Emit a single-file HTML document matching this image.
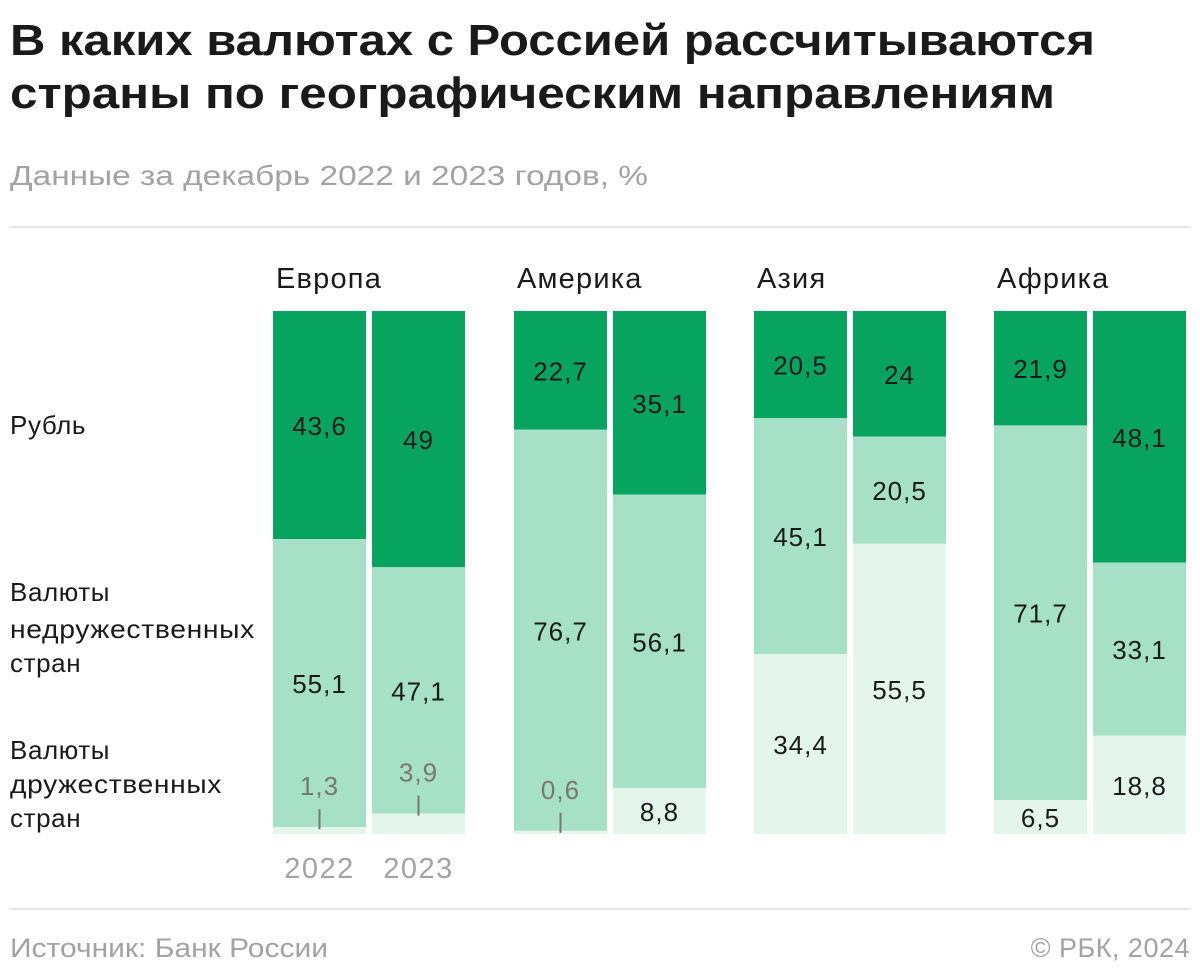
<!DOCTYPE html>
<html><head><meta charset="utf-8"><style>
html,body{margin:0;padding:0;background:#fff;}
svg{display:block;font-family:"Liberation Sans","Noto Sans CJK SC",sans-serif;}
</style></head><body>
<svg id="chart" width="1200" height="977" viewBox="0 0 1200 977">
<text x="10" y="55" font-size="44" font-weight="bold" fill="#1a1a1a" textLength="1085" lengthAdjust="spacingAndGlyphs">В каких валютах с Россией рассчитываются</text>
<text x="10" y="108" font-size="44" font-weight="bold" fill="#1a1a1a" textLength="1045" lengthAdjust="spacingAndGlyphs">страны по географическим направлениям</text>
<text x="10" y="185" font-size="28" fill="#a3a3a3" textLength="638" lengthAdjust="spacingAndGlyphs">Данные за декабрь 2022 и 2023 годов, %</text>
<rect x="10" y="226" width="1180" height="2" fill="#e6e6e6"/>
<g font-size="26" letter-spacing="0.6" fill="#1a1a1a">
<text x="10" y="434">Рубль</text>
<text><tspan x="10" y="601">Валюты</tspan><tspan x="10" y="638" textLength="245" lengthAdjust="spacingAndGlyphs">недружественных</tspan><tspan x="10" y="672">стран</tspan></text>
<text><tspan x="10" y="759">Валюты</tspan><tspan x="10" y="793" textLength="212" lengthAdjust="spacingAndGlyphs">дружественных</tspan><tspan x="10" y="827">стран</tspan></text>
</g>
<g id="bars"></g>
<rect x="10" y="908" width="1180" height="2" fill="#e6e6e6"/>
<text x="10" y="957" font-size="27" fill="#a3a3a3" textLength="318" lengthAdjust="spacingAndGlyphs">Источник: Банк России</text>
<text x="1190" y="957" font-size="27" fill="#a3a3a3" text-anchor="end" letter-spacing="0.5">© РБК, 2024</text>
</svg>
<script>
const regions = ["Европа", "Америка", "Азия", "Африка"];
const years = ["2022", "2023"];
const ruble = [43.6, 49, 22.7, 35.1, 20.5, 24, 21.9, 48.1];
const unfriendly = [55.1, 47.1, 76.7, 56.1, 45.1, 20.5, 71.7, 33.1];
const friendly = [1.3, 3.9, 0.6, 8.8, 34.4, 55.5, 6.5, 18.8];
const rubleLabels = ["43,6","49","22,7","35,1","20,5","24","21,9","48,1"];
const unfriendlyLabels = ["55,1","47,1","76,7","56,1","45,1","20,5","71,7","33,1"];
const friendlyLabels = ["1,3","3,9","0,6","8,8","34,4","55,5","6,5","18,8"];

const NS = "http://www.w3.org/2000/svg";
const g = document.getElementById('bars');
const top0 = 311, bot0 = 834, barW = 93;
const groupX = [273, 514, 754, 994], innerGap = 99;
function yScale(v){ return v / 100 * (bot0 - top0); }
function el(tag, attrs){ const e = document.createElementNS(NS, tag); for (const k in attrs) e.setAttribute(k, attrs[k]); g.appendChild(e); return e; }

regions.forEach((r, gi) => {
  const t = el('text', {x: groupX[gi] + 3, y: 288, 'font-size': 29, 'letter-spacing': 1.2, fill: '#1a1a1a'});
  t.textContent = r;
  
  
});
years.forEach((yr, yi) => {
  const t = el('text', {x: groupX[0] + yi * innerGap + barW / 2, y: 878, 'font-size': 29, 'letter-spacing': 1.5, fill: '#a3a3a3', 'text-anchor': 'middle'});
  t.textContent = yr;
  
  
});

for (let i = 0; i < ruble.length; i++) {
  const x = groupX[Math.floor(i / 2)] + (i % 2) * innerGap;
  const total = ruble[i] + unfriendly[i] + friendly[i];
  const k = 100 / total;
  let y = top0;
  const segs = [[ruble[i], '#06a45f', rubleLabels[i], 'bar-ruble'], [unfriendly[i], '#a6e0c6', unfriendlyLabels[i], 'bar-unfriendly'], [friendly[i], '#e4f5ec', friendlyLabels[i], 'bar-friendly']];
  segs.forEach((s, si) => {
    const h = yScale(s[0] * k);
    const yy = (si === 2) ? bot0 - h : y;
    const hh = h;
    const rc = el('rect', {x: x, y: yy, width: barW, height: hh, fill: s[1]});
    
    
    const cx = x + barW / 2;
    if (s[0] < 5) {
      const ln = el('rect', {x: cx - 1, y: yy - 18, width: 2, height: 20, fill: '#777'});
      
      
      const t = el('text', {x: cx, y: yy - 32, 'font-size': 26, 'letter-spacing': 1, fill: '#777', 'text-anchor': 'middle'});
      t.textContent = s[2];
      
      
    } else {
      const t = el('text', {x: cx, y: yy + hh / 2 + 10, 'font-size': 26, 'letter-spacing': 1, fill: '#1a1a1a', 'text-anchor': 'middle'});
      t.textContent = s[2];
      
      
    }
    y += h;
  });
}
</script>
</body></html>
